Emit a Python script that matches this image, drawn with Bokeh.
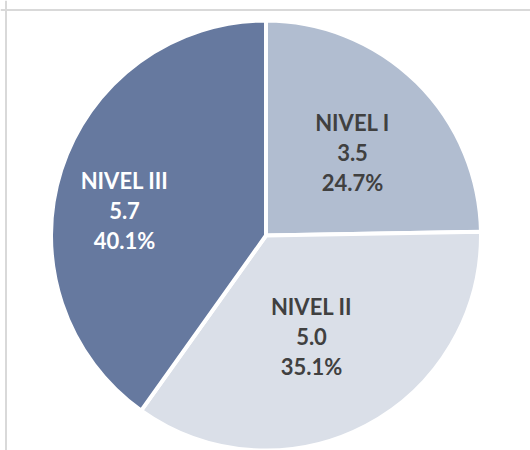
import math
from bokeh.plotting import figure
from bokeh.models import Range1d, Span, ColumnDataSource
from bokeh.core.properties import value
from bokeh.embed import file_html
from bokeh.resources import INLINE

# ---- data ----
categories = ["NIVEL I", "NIVEL II", "NIVEL III"]
values = [3.5, 5.0, 5.7]
percents = [24.7, 35.1, 40.1]
colors = ["#b1bdd0", "#dadfe8", "#66799f"]
text_colors = ["#404040", "#404040", "#ffffff"]

# ---- layout / style ----
W, H = 530, 450
cx, cy = 265.5, 215.0
R = 215
label_offsets = [(86.5, 83), (45.5, -101), (-141.5, 25)]

total = sum(percents)
starts, ends = [], []
cum = 0.0
for pc in percents:
    a0 = math.pi / 2 - 2 * math.pi * cum / total
    cum += pc
    a1 = math.pi / 2 - 2 * math.pi * cum / total
    starts.append(a1)
    ends.append(a0)

src = ColumnDataSource(dict(
    x=[cx] * 3, y=[cy] * 3, start=starts, end=ends, color=colors,
    lx=[cx + d[0] for d in label_offsets],
    ly=[cy + d[1] for d in label_offsets],
    name=categories,
    val=[f"{v:.1f}" for v in values],
    pct=[f"{p:.1f}%" for p in percents],
    tcol=text_colors,
))

p = figure(width=W, height=H, output_backend="svg", toolbar_location=None,
           x_range=Range1d(0, W), y_range=Range1d(0, H),
           min_border=0, outline_line_color=None)
p.xaxis.visible = False
p.yaxis.visible = False
p.grid.visible = False
p.background_fill_color = "white"
p.border_fill_color = "white"

p.wedge(x="x", y="y", radius=R, start_angle="start", end_angle="end",
        direction="anticlock", fill_color="color", line_color="white",
        line_width=4, source=src)

font = value("Lato")
for col, off in (("name", -30), ("val", 0), ("pct", 30)):
    p.text(x="lx", y="ly", text=col, source=src, text_color="tcol",
           text_font=font, text_font_style="bold", text_font_size="22px",
           text_align="center", text_baseline="middle", y_offset=off)

p.add_layout(Span(location=H - 9.5, dimension="width", line_color="#d9d9d9", line_width=2))
p.add_layout(Span(location=5.5, dimension="height", line_color="#d9d9d9", line_width=2))

open("out.html", "w").write(file_html(p, INLINE))
